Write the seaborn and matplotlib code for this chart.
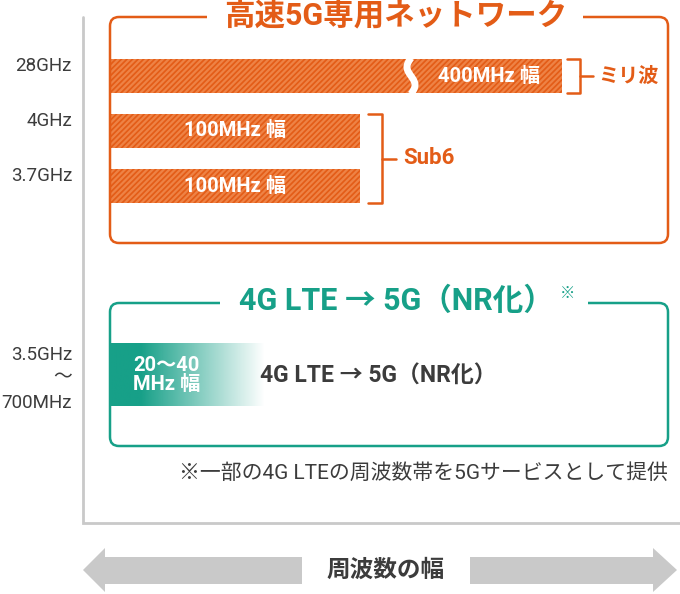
"""5G frequency bands infographic: dedicated 5G bands vs. 4G LTE converted to 5G."""
import matplotlib

matplotlib.use("Agg")
import matplotlib.pyplot as plt
import numpy as np
import pandas as pd
import seaborn as sns
from matplotlib.colors import to_rgba
from matplotlib.patches import FancyBboxPatch, Polygon, Rectangle

# data
bands = ["28GHz", "4GHz", "3.7GHz"]
widths_mhz = [400, 100, 100]
groups = ["ミリ波", "Sub6", "Sub6"]
lte_bands = ["3.5GHz", "〜", "700MHz"]
lte_width_label = "20〜40\nMHz 幅"
title_5g = "高速5G専用ネットワーク"
title_lte = "4G LTE → 5G（NR化）"
footnote = "※一部の4G LTEの周波数帯を5Gサービスとして提供"
axis_label = "周波数の幅"

ORANGE = "#E35C17"
STRIPE = "#EE8245"
TEAL = "#17A088"
GREY = "#C9C9C9"
TXT = "#3C3C3C"
FAM = ["Roboto", "Noto Sans CJK JP", "DejaVu Sans"]

sns.set_theme(style="white")
plt.rcParams["font.family"] = FAM
plt.rcParams["hatch.color"] = STRIPE
plt.rcParams["hatch.linewidth"] = 1.6


# broken bandwidth scale: 100 MHz -> 250 px, everything above compressed
def fwd(w):
    w = np.asarray(w, dtype=float)
    return np.where(w <= 100, w * 2.5, 250 + (w - 100) * 202 / 300)


def inv(p):
    p = np.asarray(p, dtype=float)
    return np.where(p <= 250, p / 2.5, 100 + (p - 250) * 300 / 202)


W, H = 680, 594
fig = plt.figure(figsize=(W / 100, H / 100), dpi=100)

# bar axes (drawn below the pixel-space overlay)
X0, ROW, TOP = 110, 55, 48.5
bx = fig.add_axes([X0 / W, 1 - (TOP + ROW * len(bands)) / H, (W - X0) / W, ROW * len(bands) / H])
df = pd.DataFrame({"band": bands, "width": widths_mhz})
sns.barplot(data=df, x="width", y="band", orient="h", ax=bx, color=ORANGE,
            width=34 / ROW, saturation=1)
for p in bx.patches:
    p.set_hatch("//////")
    p.set_edgecolor(STRIPE)
    p.set_linewidth(0)
bx.set_xscale("function", functions=(fwd, inv))
bx.set_xlim(0, float(inv(W - X0)))
bx.set_ylim(len(bands) - 0.5, -0.5)
bx.axis("off")
bx.set_zorder(0)

# overlay in pixel coordinates
ax = fig.add_axes([0, 0, 1, 1])
ax.set_xlim(0, W)
ax.set_ylim(H, 0)
ax.axis("off")
ax.set_zorder(1)
ax.patch.set_alpha(0)

# grey axes
ax.plot([83, 83, W], [17, 523, 523], color=GREY, lw=2, solid_joinstyle="miter")

# boxes with title gaps
ax.add_patch(FancyBboxPatch((110, 17), 558, 226, boxstyle="round,pad=0,rounding_size=9",
                            fc="none", ec=ORANGE, lw=1.8))
ax.add_patch(Rectangle((207, 8), 376, 18, fc="white", ec="none"))
ax.text(396, 15, title_5g, ha="center", va="center", fontsize=22, fontweight="bold", color=ORANGE)

ax.add_patch(FancyBboxPatch((110, 303), 558, 143, boxstyle="round,pad=0,rounding_size=9",
                            fc="none", ec=TEAL, lw=1.8))
ax.add_patch(Rectangle((220, 294), 368, 18, fc="white", ec="none"))
ax.text(396, 301, title_lte, ha="center", va="center", fontsize=22, fontweight="bold", color=TEAL)
ax.text(568, 293, "※", ha="center", va="center", fontsize=11, color=TEAL, family=["Noto Sans CJK JP"])

# bar labels, break mark, brackets, band labels
centers = [TOP + ROW * (i + 0.5) for i in range(len(bands))]
ends = [X0 + float(fwd(w)) for w in widths_mhz]
brk = X0 + 301
for band, w, yc, xe in zip(bands, widths_mhz, centers, ends):
    ax.text(72, yc - 10, band, ha="right", va="center", fontsize=13.5, color=TXT)
    if w > 100:
        t = np.linspace(-1, 1, 60)
        ax.plot(brk + 4 * np.sin(t * np.pi), yc + 18 * t, color="white", lw=5,
                solid_capstyle="butt")
        xc = (brk + 6 + xe) / 2
    else:
        xc = (X0 + xe) / 2
    ax.text(xc, yc, f"{w}MHz 幅", ha="center", va="center", fontsize=14.5, fontweight="bold", color="white")

# millimetre-wave bracket
y0, y1 = centers[0] - 17, centers[0] + 17
xb = ends[0] + 18
ax.plot([ends[0] + 5, xb, xb, ends[0] + 5], [y0, y0, y1, y1], color=ORANGE, lw=1.8)
ax.plot([xb, xb + 13], [centers[0], centers[0]], color=ORANGE, lw=1.8)
ax.text(xb + 18, centers[0], groups[0], ha="left", va="center", fontsize=14.5, fontweight="bold",
        color=ORANGE)

# Sub6 bracket
y0, y1 = centers[1] - 17, centers[2] + 17
xb = ends[1] + 22
ym = (y0 + y1) / 2
ax.plot([ends[1] + 8, xb, xb, ends[1] + 8], [y0, y0, y1, y1], color=ORANGE, lw=1.8)
ax.plot([xb, xb + 14], [ym, ym], color=ORANGE, lw=1.8)
ax.text(xb + 21, ym, groups[1], ha="left", va="center", fontsize=16, fontweight="bold", color=ORANGE)

# LTE gradient band
n = 256
alpha = np.clip(1 - (np.linspace(0, 1, n) - 0.2) / 0.8, 0, 1)
img = np.tile(to_rgba(TEAL), (1, n, 1))
img[0, :, 3] = alpha
ax.imshow(img, extent=[110, 265, 406, 343], aspect="auto", interpolation="bilinear")
ax.set_xlim(0, W)
ax.set_ylim(H, 0)
ax.text(133, 375, lte_width_label, ha="left", va="center", fontsize=14.5, fontweight="bold",
        color="white", linespacing=1.0)
ax.text(260, 376, title_lte, ha="left", va="center", fontsize=16.5, fontweight="bold", color=TXT)
for lab, y in zip(lte_bands, [355, 377, 403]):
    ax.text(72, y, lab, ha="right", va="center", fontsize=13.5, color=TXT)

ax.text(668, 473, footnote, ha="right", va="center", fontsize=15, color=TXT)

# double arrow for the axis
ax.add_patch(Polygon([(83, 570), (105, 548), (105, 557), (302, 557), (302, 584), (105, 584), (105, 592)],
                     fc=GREY, ec="none"))
ax.add_patch(Polygon([(677, 570), (653, 548), (653, 557), (470, 557), (470, 584), (653, 584), (653, 592)],
                     fc=GREY, ec="none"))
ax.text(386, 570, axis_label, ha="center", va="center", fontsize=17, fontweight="bold", color=TXT)

fig.savefig("out.png", dpi=100)
plt.close(fig)
